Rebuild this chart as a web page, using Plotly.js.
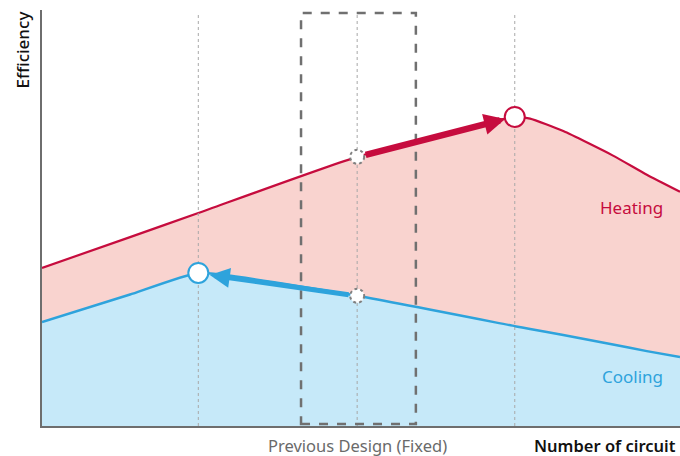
<!DOCTYPE html>
<html><head><meta charset="utf-8">
<script src="https://cdn.plot.ly/plotly-3.0.1.min.js"></script>
<style>html,body{margin:0;padding:0;background:#fff}#chart{width:680px;height:456px}</style>
</head><body><div id="chart"></div>
<script>
// Shared x positions (Number of circuit, arbitrary units 0..100)
const xs = [0, 13.8, 24.5, 49.4, 74.1, 76.5, 81.7, 89.5, 94.8, 100];
// Efficiency (arbitrary units 0..100)
const heating = [38.0, 45.4, 51.2, 64.7, 74.3, 73.9, 70.9, 65.0, 60.4, 56.3];
const cooling = [25.0, 31.6, 36.8, 31.3, 24.0, 23.3, 21.9, 19.6, 18.0, 16.6];
// Key design points
const prevX = 49.4;               // previous design (fixed)
const heatOptX = 74.1, heatOptY = 74.3;
const coolOptX = 24.5, coolOptY = 36.8;
const prevHeatY = 64.7, prevCoolY = 31.3;
const boxX = [40.6, 58.6];
const labels = {x: 'Number of circuit', y: 'Efficiency', prev: 'Previous Design (Fixed)', heat: 'Heating', cool: 'Cooling'};

const RED = '#c60c3e', BLUE = '#2ea3dc';
const FONT = 'Noto Sans, Open Sans, sans-serif';

const traces = [
  {x: xs, y: cooling, mode: 'lines', line: {color: BLUE, width: 2.5, shape: 'spline', smoothing: 0.4},
   fill: 'tozeroy', fillcolor: '#c6e9f9', hoverinfo: 'skip'},
  {x: xs, y: heating, mode: 'lines', line: {color: RED, width: 2.2, shape: 'spline', smoothing: 0.5},
   fill: 'tonexty', fillcolor: '#f9d3cf', hoverinfo: 'skip'}
];

const shapes = [];
[coolOptX, prevX, heatOptX].forEach(x => shapes.push({type: 'line', xref: 'x', yref: 'y', x0: x, x1: x, y0: 0, y1: 99.5,
  line: {color: '#a8a8a8', width: 1, dash: 'dot'}}));
shapes.push({type: 'rect', xref: 'x', yref: 'y', x0: boxX[0], x1: boxX[1], y0: 0.5, y1: 99.3,
  line: {color: '#707070', width: 2.5, dash: 'dash'}, fillcolor: 'rgba(0,0,0,0)'});
function circ(x, y, r, color, dash, w) {
  return {type: 'circle', xref: 'x', yref: 'y', xsizemode: 'pixel', ysizemode: 'pixel', xanchor: x, yanchor: y,
    x0: -r, x1: r, y0: -r, y1: r, fillcolor: '#ffffff', line: {color: color, width: w, dash: dash}};
}
shapes.push(circ(prevX, prevHeatY, 7, '#808080', 'dot', 2));
shapes.push(circ(prevX, prevCoolY, 7, '#808080', 'dot', 2));
shapes.push(circ(heatOptX, heatOptY, 10, RED, 'solid', 2));
shapes.push(circ(coolOptX, coolOptY, 10, BLUE, 'solid', 2));

const annotations = [
  {x: 72.6, y: 73.8, ax: 50.5, ay: 65.1, xref: 'x', yref: 'y', axref: 'x', ayref: 'y', text: '', showarrow: true,
   arrowhead: 2, arrowsize: 0.65, arrowwidth: 6.5, arrowcolor: RED, standoff: 0},
  {x: 26.3, y: 36.3, ax: 48.3, ay: 31.5, xref: 'x', yref: 'y', axref: 'x', ayref: 'y', text: '', showarrow: true,
   arrowhead: 2, arrowsize: 0.8, arrowwidth: 5, arrowcolor: BLUE, standoff: 0},
  {x: 97.6, y: 52.6, xref: 'x', yref: 'y', text: labels.heat, showarrow: false, xanchor: 'right', yanchor: 'middle',
   font: {family: FONT, size: 17, color: RED}},
  {x: 97.6, y: 11.8, xref: 'x', yref: 'y', text: labels.cool, showarrow: false, xanchor: 'right', yanchor: 'middle',
   font: {family: FONT, size: 17, color: BLUE}},
  {x: prevX, y: 0, xref: 'paper', yref: 'paper', yshift: -19, text: labels.prev, showarrow: false, xanchor: 'center', yanchor: 'middle',
   font: {family: FONT, size: 16.5, color: '#6a6a6a'}},
  {x: 1, y: 0, xref: 'paper', yref: 'paper', yshift: -19, xshift: -2, text: labels.x, showarrow: false, xanchor: 'right', yanchor: 'middle',
   font: {family: FONT, size: 16.5, color: '#111111', weight: 600}},
  {x: 0, y: 1, xref: 'paper', yref: 'paper', xshift: -20, yshift: 0, text: labels.y, showarrow: false, textangle: -90,
   xanchor: 'center', yanchor: 'top', font: {family: FONT, size: 17, color: '#111111', weight: 500}}
];
annotations[4].xref = 'x';

const layout = {
  width: 680, height: 456,
  margin: {l: 42, r: 0, t: 10, b: 30},
  paper_bgcolor: '#ffffff', plot_bgcolor: '#ffffff',
  showlegend: false,
  xaxis: {range: [0, 100], showgrid: false, zeroline: false, showticklabels: false, ticks: '',
          showline: true, linecolor: '#6e6e6e', linewidth: 2, fixedrange: true},
  yaxis: {range: [0, 100], showgrid: false, zeroline: false, showticklabels: false, ticks: '',
          showline: true, linecolor: '#6e6e6e', linewidth: 2, fixedrange: true},
  shapes: shapes,
  annotations: annotations
};
Plotly.newPlot('chart', traces, layout, {staticPlot: true, displayModeBar: false});
</script></body></html>
